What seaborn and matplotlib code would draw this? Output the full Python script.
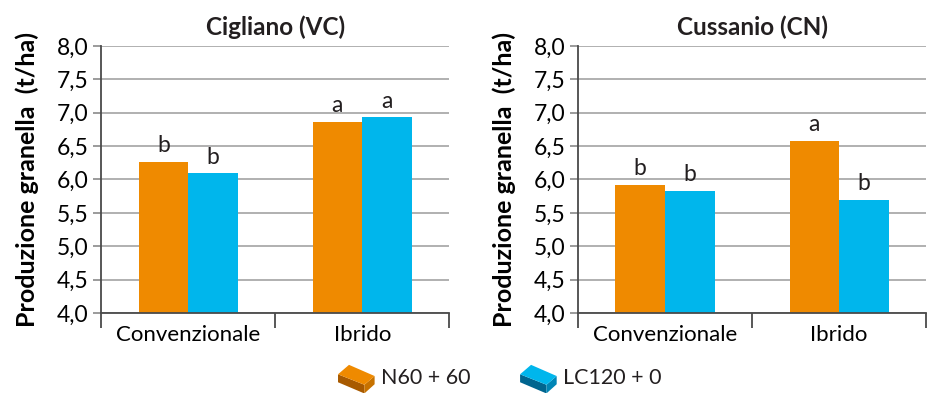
import pandas as pd
import seaborn as sns
import matplotlib.pyplot as plt
from matplotlib.patches import Polygon, Patch
from matplotlib.legend_handler import HandlerPatch
from matplotlib.ticker import FixedLocator, FuncFormatter

# data
categories = ["Convenzionale", "Ibrido"]
treatments = ["N60 + 60", "LC120 + 0"]
sites = ["Cigliano (VC)", "Cussanio (CN)"]

cigliano_n60 = [6.26, 6.86]
cigliano_lc120 = [6.09, 6.93]
cussanio_n60 = [5.92, 6.58]
cussanio_lc120 = [5.83, 5.70]

cigliano_letters_n60 = ["b", "a"]
cigliano_letters_lc120 = ["b", "a"]
cussanio_letters_n60 = ["b", "a"]
cussanio_letters_lc120 = ["b", "b"]

colors = {"N60 + 60": "#EF8A00", "LC120 + 0": "#00B6EC"}
side_colors = {"N60 + 60": ("#A85A00", "#C77200"), "LC120 + 0": ("#00658F", "#0085B5")}


def long_table(n60, lc120):
    rows = []
    for cat, a, b in zip(categories, n60, lc120):
        rows.append({"tipo": cat, "trattamento": treatments[0], "resa": a})
        rows.append({"tipo": cat, "trattamento": treatments[1], "resa": b})
    return pd.DataFrame(rows)


class BoxHandler(HandlerPatch):
    # small 3D box icon for the legend
    def create_artists(self, legend, orig_handle, xdescent, ydescent, width, height, fontsize, trans):
        x0, y0 = -xdescent, -ydescent
        w, h = width, height
        def p(fx, fy):
            return (x0 + fx * w, y0 + fy * h)
        main = orig_handle.get_facecolor()
        dark, mid = side_colors[orig_handle.get_label()]
        top = Polygon([p(0, 0.62), p(0.3, 1.0), p(1.0, 0.55), p(0.72, 0.2)], closed=True,
                      facecolor=main, edgecolor="none", transform=trans)
        left = Polygon([p(0, 0.62), p(0.72, 0.2), p(0.72, -0.15), p(0, 0.3)], closed=True,
                       facecolor=dark, edgecolor="none", transform=trans)
        right = Polygon([p(0.72, 0.2), p(1.0, 0.55), p(1.0, 0.22), p(0.72, -0.15)], closed=True,
                        facecolor=mid, edgecolor="none", transform=trans)
        return [left, right, top]


plt.rcParams['font.family'] = ['Lato', 'DejaVu Sans']
plt.rcParams['text.color'] = '#231f20'

fig = plt.figure(figsize=(9.36, 3.93), dpi=100)
ax1 = fig.add_axes([0.108, 0.2036, 0.372, 0.6794])
ax2 = fig.add_axes([0.6175, 0.2036, 0.372, 0.6794])

panels = [
    (ax1, sites[0], cigliano_n60, cigliano_lc120, cigliano_letters_n60, cigliano_letters_lc120),
    (ax2, sites[1], cussanio_n60, cussanio_lc120, cussanio_letters_n60, cussanio_letters_lc120),
]

for ax, site, n60, lc120, let_a, let_b in panels:
    df = long_table(n60, lc120)
    sns.barplot(data=df, x="tipo", y="resa", hue="trattamento", order=categories,
                hue_order=treatments, palette=colors, saturation=1, width=0.57,
                linewidth=0, legend=False, ax=ax)
    ax.set_ylim(4.0, 8.0)
    ax.set_xlim(-0.5, 1.5)
    ax.yaxis.set_major_locator(FixedLocator([4.0, 4.5, 5.0, 5.5, 6.0, 6.5, 7.0, 7.5, 8.0]))
    ax.yaxis.set_major_formatter(FuncFormatter(lambda v, pos: f"{v:.1f}".replace(".", ",")))
    ax.grid(axis="y", color="#a3a3a3", linewidth=1.2)
    ax.set_axisbelow(True)
    for s in ["top", "right"]:
        ax.spines[s].set_visible(False)
    for s in ["left", "bottom"]:
        ax.spines[s].set_color("#4a4a4a")
        ax.spines[s].set_linewidth(1.3)
    ax.xaxis.set_minor_locator(FixedLocator([-0.5, 0.5, 1.5]))
    ax.tick_params(axis="x", which="major", length=0, pad=9, labelsize=16)
    ax.tick_params(axis="x", which="minor", length=11, width=1.3, color="#4a4a4a")
    ax.tick_params(axis="y", length=6, width=1.2, color="#8a8a8a", pad=3, labelsize=16.5)
    ax.set_xlabel("")
    ax.set_ylabel("Produzione granella  (t/ha)", fontsize=18, fontweight="bold")
    ax.yaxis.set_label_coords(-0.178, 0.5)
    ax.set_title(site, fontsize=17.5, fontweight="bold", pad=8)

    for container, letters in zip(ax.containers, [let_a, let_b]):
        for bar, letter in zip(container, letters):
            ax.annotate(letter, (bar.get_x() + bar.get_width() / 2, bar.get_height()),
                        xytext=(0, 7), textcoords="offset points",
                        ha="center", va="baseline", fontsize=16.5)

handles = [Patch(facecolor=colors[t], label=t) for t in treatments]
fig.legend(handles=handles, labels=treatments, loc="center", bbox_to_anchor=(0.534, 0.04),
           ncol=2, frameon=False, fontsize=15.5, handlelength=1.7, handleheight=1.4,
           handletextpad=0.3, columnspacing=2.3,
           handler_map={Patch: BoxHandler()})

fig.savefig("out.png", dpi=100)
